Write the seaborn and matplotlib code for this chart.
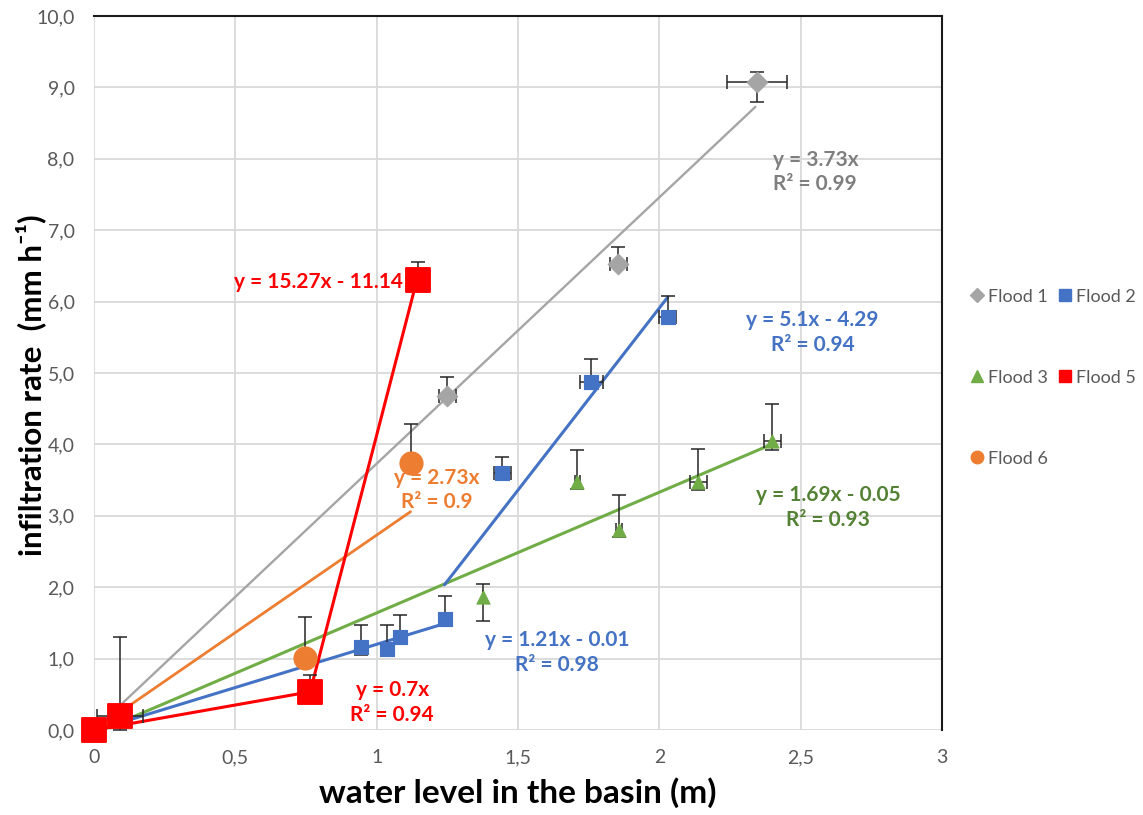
import numpy as np
import pandas as pd
import matplotlib
matplotlib.use("Agg")
import matplotlib.pyplot as plt
from matplotlib.lines import Line2D
from matplotlib.ticker import FixedLocator, FixedFormatter
import seaborn as sns

# ---------------- data ----------------
f1_x = [1.25, 1.855, 2.345]
f1_y = [4.68, 6.52, 9.07]
f1_up = [0.27, 0.24, 0.15]
f1_lo = [0.04, 0.04, 0.27]
f1_xe = [0.03, 0.03, 0.105]

f2_x = [0.945, 1.037, 1.083, 1.24, 1.444, 1.76, 2.03]
f2_y = [1.16, 1.14, 1.30, 1.55, 3.60, 4.87, 5.78]
f2_up = [0.31, 0.33, 0.31, 0.33, 0.23, 0.33, 0.30]
f2_lo = [0.11, 0.07, 0.04, 0.04, 0.04, 0.04, 0.04]
f2_xe = [0.0, 0.0, 0.0, 0.0, 0.03, 0.04, 0.03]

f3_x = [1.377, 1.71, 1.858, 2.138, 2.40]
f3_y = [1.86, 3.47, 2.80, 3.47, 4.05]
f3_up = [0.19, 0.45, 0.49, 0.47, 0.51]
f3_lo = [0.34, 0.09, 0.10, 0.11, 0.13]
f3_xe = [0.0, 0.01, 0.01, 0.03, 0.03]

f5_x = [0.0, 0.092, 0.765, 1.147]
f5_y = [0.0, 0.20, 0.53, 6.30]
f5_up = [0.0, 1.10, 0.24, 0.25]
f5_lo = [0.0, 0.20, 0.0, 0.0]
f5_xe = [0.0, 0.08, 0.0, 0.03]

f6_x = [0.747, 1.122]
f6_y = [1.01, 3.74]
f6_up = [0.57, 0.55]
f6_lo = [0.13, 0.14]

# trendlines: (slope, intercept, x_start, x_end)
trend_f1 = (3.73, 0.0, 0.0, 2.34)
trend_f2a = (1.21, -0.01, 0.0, 1.24)
trend_f2b = (5.1, -4.29, 1.24, 2.03)
trend_f3 = (1.69, -0.05, 0.03, 2.40)
trend_f5a = (0.7, 0.0, 0.0, 0.765)
trend_f5b = (15.27, -11.14, 0.765, 1.147)
trend_f6 = (2.73, 0.0, 0.0, 1.12)

x_ticks = [0, 0.5, 1, 1.5, 2, 2.5, 3]
x_ticklabels = ["0", "0,5", "1", "1,5", "2", "2,5", "3"]
y_ticks = list(range(0, 11))
y_ticklabels = [f"{v},0" for v in y_ticks]

legend_labels = ["Flood 1", "Flood 2", "Flood 3", "Flood 5", "Flood 6"]

# ---------------- style ----------------
C_GRAY = "#A5A5A5"
C_BLUE = "#4472C4"
C_GREEN = "#70AD47"
C_RED = "#FF0000"
C_ORANGE = "#ED7D31"
T_GRAY = "#7F7F7F"
T_BLUE = "#4472C4"
T_GREEN = "#548235"
T_RED = "#FF0000"
T_ORANGE = "#ED7D31"
TXT = "#595959"

sns.set_style("white")
plt.rcParams["font.family"] = ["Lato", "DejaVu Sans"]

fig = plt.figure(figsize=(11.43, 8.15), dpi=100)
ax = fig.add_axes([94/1143, 1-730/815, (942-94)/1143, (730-16)/815])

# trendlines
def trend(t, color, lw=2.0):
    s, b, x0, x1 = t
    xs = np.array([x0, x1])
    df = pd.DataFrame({"x": xs, "y": s*xs + b})
    sns.lineplot(data=df, x="x", y="y", color=color, lw=lw, ax=ax, zorder=2)

trend(trend_f1, C_GRAY, 1.7)
trend(trend_f6, C_ORANGE, 2.0)
trend(trend_f3, C_GREEN, 2.2)
trend(trend_f2a, C_BLUE, 2.2)
trend(trend_f2b, C_BLUE, 2.2)
trend(trend_f5a, C_RED, 2.2)
trend(trend_f5b, C_RED, 2.2)

# error bars
def errs(x, y, lo, up, xe=None):
    ax.errorbar(x, y, yerr=[lo, up], xerr=xe, fmt="none", ecolor="#262626",
                elinewidth=1.1, capsize=5, capthick=1.1, zorder=3, clip_on=False)

errs(f1_x, f1_y, f1_lo, f1_up, f1_xe)
errs(f2_x, f2_y, f2_lo, f2_up, f2_xe)
errs(f3_x, f3_y, f3_lo, f3_up, f3_xe)
errs(f5_x, f5_y, f5_lo, f5_up, f5_xe)
errs(f6_x, f6_y, f6_lo, f6_up)

# markers
sns.scatterplot(x=f1_x, y=f1_y, marker="D", s=110, color=C_GRAY, edgecolor=C_GRAY, ax=ax, zorder=4)
sns.scatterplot(x=f2_x, y=f2_y, marker="s", s=110, color=C_BLUE, edgecolor=C_BLUE, ax=ax, zorder=4)
sns.scatterplot(x=f3_x, y=f3_y, marker="^", s=90, color=C_GREEN, edgecolor=C_GREEN, ax=ax, zorder=4)
sns.scatterplot(x=f6_x, y=f6_y, marker="o", s=260, color=C_ORANGE, edgecolor=C_ORANGE, ax=ax, zorder=4)
sns.scatterplot(x=f5_x, y=f5_y, marker="s", s=280, color=C_RED, edgecolor=C_RED, ax=ax, zorder=5)
for coll in ax.collections:
    coll.set_clip_on(False)

# equations
fs = 15
kw = dict(fontsize=fs, fontweight="bold", ha="center", va="center", linespacing=1.3, zorder=6)
ax.text(2.552, 7.815, "y = 3.73x\nR² = 0.99", color=T_GRAY, **kw)
ax.text(2.542, 5.57, "y = 5.1x - 4.29\nR² = 0.94", color=T_BLUE, **kw)
ax.text(1.214, 3.36, "y = 2.73x\nR² = 0.9", color=T_ORANGE, **kw)
ax.text(2.598, 3.12, "y = 1.69x - 0.05\nR² = 0.93", color=T_GREEN, **kw)
ax.text(1.639, 1.09, "y = 1.21x - 0.01\nR² = 0.98", color=T_BLUE, **kw)
ax.text(1.055, 0.39, "y = 0.7x\nR² = 0.94", color=T_RED, **kw)
ax.text(1.094, 6.27, "y = 15.27x - 11.14", color=T_RED, fontsize=fs, fontweight="bold",
        ha="right", va="center", zorder=6)

# axes
ax.set_xlim(0, 3)
ax.set_ylim(0, 10)
ax.xaxis.set_major_locator(FixedLocator(x_ticks))
ax.xaxis.set_major_formatter(FixedFormatter(x_ticklabels))
ax.yaxis.set_major_locator(FixedLocator(y_ticks))
ax.yaxis.set_major_formatter(FixedFormatter(y_ticklabels))
ax.tick_params(axis="both", length=0, labelsize=14, labelcolor=TXT, pad=14)
ax.grid(True, color="#D9D9D9", lw=1.3, zorder=0)
ax.set_axisbelow(True)
for side in ["left", "bottom"]:
    ax.spines[side].set_visible(False)
for side in ["top", "right"]:
    ax.spines[side].set_visible(True)
    ax.spines[side].set_color("#1a1a1a")
    ax.spines[side].set_linewidth(1.5)

ax.set_xlabel("water level in the basin (m)", fontsize=24, fontweight="bold", color="#000000", labelpad=8)
ax.set_ylabel("infiltration rate  (mm h⁻¹)", fontsize=22.5, fontweight="bold", color="#000000")
ax.yaxis.set_label_coords(-0.0566, 0.483)

# legend (row-wise order via column fill)
handles = {
    "Flood 1": Line2D([], [], ls="none", marker="D", ms=7, color=C_GRAY),
    "Flood 2": Line2D([], [], ls="none", marker="s", ms=9, color=C_BLUE),
    "Flood 3": Line2D([], [], ls="none", marker="^", ms=9, color=C_GREEN),
    "Flood 5": Line2D([], [], ls="none", marker="s", ms=9, color=C_RED),
    "Flood 6": Line2D([], [], ls="none", marker="o", ms=9, color=C_ORANGE),
}
order = [legend_labels[0], legend_labels[2], legend_labels[4], legend_labels[1], legend_labels[3]]
leg = fig.legend([handles[k] for k in order], order, loc="upper left",
                 bbox_to_anchor=(958/1143, 1-276/815), ncol=2, frameon=False,
                 fontsize=13, labelcolor=TXT, labelspacing=3.6, columnspacing=0.6,
                 handlelength=0.7, handletextpad=0.25, borderpad=0.2)

fig.savefig("out.png", dpi=100)
